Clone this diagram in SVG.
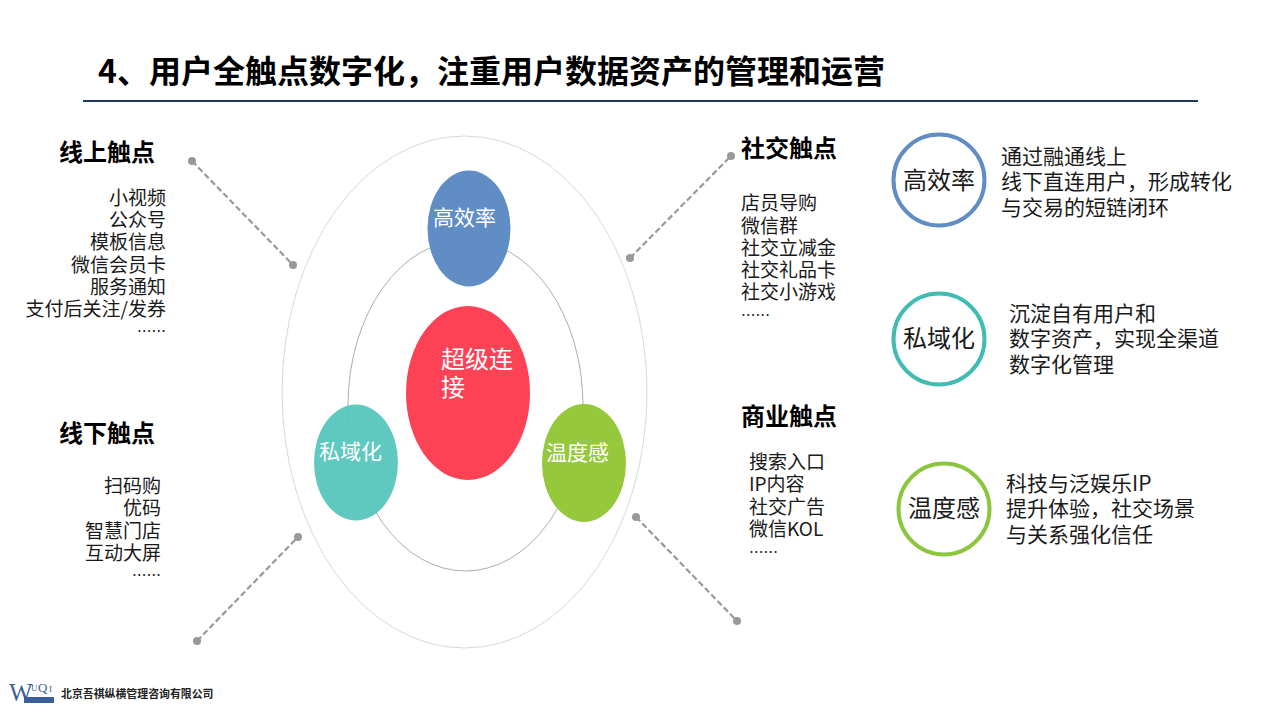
<svg xmlns="http://www.w3.org/2000/svg" width="1280" height="720" viewBox="0 0 1280 720">
<defs><style>
text{font-family:"Noto Sans CJK SC","Liberation Sans",sans-serif;fill:#1a1a1a}
.t{font-size:24px;font-weight:700;fill:#000}
.l{font-size:19px}
.m{font-size:14.500px}
.e{text-anchor:end}
.w{font-size:21px;fill:#fff}
.d{font-size:21px}
.lab{font-size:24px}
.s{font-family:"Liberation Serif",serif;fill:#3a5f9a}
.conn{stroke:#999;stroke-width:2.2;stroke-dasharray:6 3;fill:none}
.dot{fill:#999}
.ring{fill:#fff;stroke-width:4}
</style></defs>
<rect width="1280" height="720" fill="#fff"/>
<g id="title">
<text x="98" y="83" style="font-size:32px;font-weight:700;fill:#000">4、用户全触点数字化，注重用户数据资产的管理和运营</text>
<line x1="83" y1="101" x2="1198" y2="101" stroke="#1f3864" stroke-width="2"/>
</g>
<g id="orbits" fill="none">
<ellipse cx="464.500" cy="392" rx="182.500" ry="256" stroke="#d4dadc" stroke-width="1"/>
<ellipse cx="465.500" cy="405.500" rx="117.500" ry="165.500" stroke="#adadad" stroke-width="1"/>
</g>
<g id="connectors">
<line class="conn" x1="192" y1="161" x2="293" y2="265"/>
<line class="conn" x1="630" y1="258" x2="731" y2="156"/>
<line class="conn" x1="197" y1="641" x2="298" y2="537"/>
<line class="conn" x1="636" y1="517" x2="737" y2="621"/>
<circle class="dot" cx="192" cy="161" r="4"/><circle class="dot" cx="293" cy="265" r="4"/>
<circle class="dot" cx="630" cy="258" r="4"/><circle class="dot" cx="731" cy="156" r="4"/>
<circle class="dot" cx="197" cy="641" r="4"/><circle class="dot" cx="298" cy="537" r="4"/>
<circle class="dot" cx="636" cy="517" r="4"/><circle class="dot" cx="737" cy="621" r="4"/>
</g>
<g id="node-gaoxiao"><ellipse cx="469" cy="228.500" rx="41.500" ry="58" fill="#5f8dc4"/><text class="w" x="433" y="225">高效率</text></g>
<g id="node-chaoji"><ellipse cx="468" cy="393" rx="62" ry="87" fill="#fd4256"/><text x="441" y="368" style="font-size:24px;fill:#fff">超级连</text><text x="441" y="396" style="font-size:24px;fill:#fff">接</text></g>
<g id="node-siyu"><ellipse cx="356" cy="462.500" rx="42" ry="58" fill="#56c6bc" fill-opacity=".95"/><text class="w" x="319" y="459">私域化</text></g>
<g id="node-wendu"><ellipse cx="584" cy="463" rx="42" ry="59" fill="#96c83c"/><text class="w" x="546" y="460">温度感</text></g>
<g id="online">
<text class="t" x="59" y="161">线上触点</text>
<text class="l e" x="166" y="205">小视频</text><text class="l e" x="166" y="227">公众号</text><text class="l e" x="166" y="249">模板信息</text><text class="l e" x="166" y="272">微信会员卡</text><text class="l e" x="166" y="294">服务通知</text><text class="l e" x="166" y="316">支付后关注/发券</text><text class="m e" x="166" y="337">……</text>
</g>
<g id="offline">
<text class="t" x="59" y="442">线下触点</text>
<text class="l e" x="161" y="493">扫码购</text><text class="l e" x="161" y="515">优码</text><text class="l e" x="161" y="538">智慧门店</text><text class="l e" x="161" y="560">互动大屏</text><text class="m e" x="161" y="581">……</text>
</g>
<g id="social">
<text class="t" x="741" y="157">社交触点</text>
<text class="l" x="741" y="210">店员导购</text><text class="l" x="741" y="233">微信群</text><text class="l" x="741" y="255">社交立减金</text><text class="l" x="741" y="277">社交礼品卡</text><text class="l" x="741" y="299">社交小游戏</text><text class="m" x="741" y="321">……</text>
</g>
<g id="business">
<text class="t" x="741" y="425">商业触点</text>
<text class="l" x="749" y="469">搜索入口</text><text class="l" x="749" y="491">IP内容</text><text class="l" x="749" y="514">社交广告</text><text class="l" x="749" y="536">微信KOL</text><text class="m" x="749" y="558">……</text>
</g>
<g id="ring-gaoxiao"><circle class="ring" cx="939" cy="180" r="45.500" stroke="#5f8dc4"/><text class="lab" x="903" y="189">高效率</text></g>
<g id="ring-siyu"><circle class="ring" cx="939" cy="339" r="45.500" stroke="#40bcb2"/><text class="lab" x="903" y="347">私域化</text></g>
<g id="ring-wendu"><circle class="ring" cx="944" cy="509" r="45.500" stroke="#8cc63f"/><text class="lab" x="908" y="517">温度感</text></g>
<g id="desc-gaoxiao"><text class="d" x="1001" y="164">通过融通线上</text><text class="d" x="1001" y="189">线下直连用户，形成转化</text><text class="d" x="1001" y="215">与交易的短链闭环</text></g>
<g id="desc-siyu"><text class="d" x="1009" y="321">沉淀自有用户和</text><text class="d" x="1009" y="346">数字资产，实现全渠道</text><text class="d" x="1009" y="372">数字化管理</text></g>
<g id="desc-wendu"><text class="d" x="1006" y="491">科技与泛娱乐IP</text><text class="d" x="1006" y="516">提升体验，社交场景</text><text class="d" x="1006" y="542">与关系强化信任</text></g>
<g id="logo">
<text class="s" x="9" y="701" style="font-size:25px">W</text>
<text class="s" x="31" y="691" style="font-size:9px">U</text>
<text class="s" x="38" y="692" style="font-size:13px">Q</text>
<text class="s" x="49" y="692" style="font-size:9px">I</text>
<rect x="24" y="697" width="30" height="6" fill="#3a5f9a"/>
<text x="61" y="698" style="font-size:10.900px;font-weight:700;fill:#222">北京吾祺纵横管理咨询有限公司</text>
</g>
</svg>
